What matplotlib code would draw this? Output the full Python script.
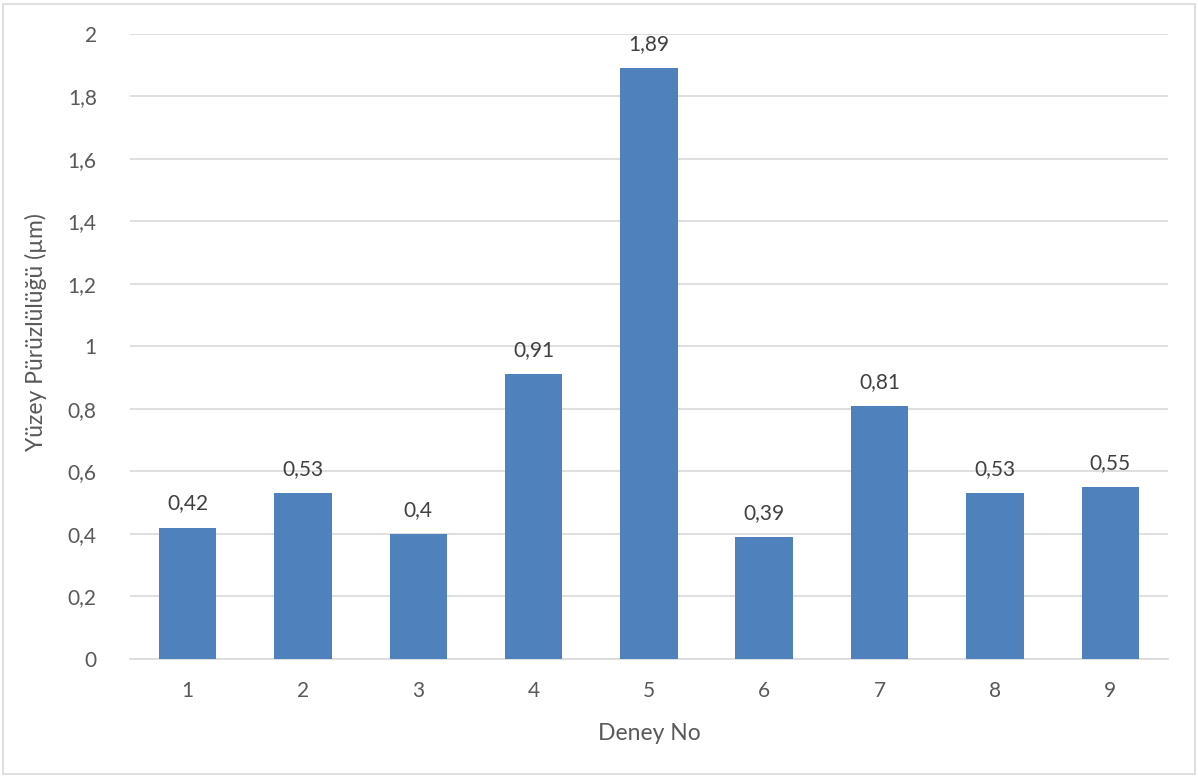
import matplotlib
matplotlib.use('Agg')
import matplotlib.pyplot as plt
from matplotlib.patches import Rectangle

deney = ['1', '2', '3', '4', '5', '6', '7', '8', '9']
puruzluluk = [0.42, 0.53, 0.40, 0.91, 1.89, 0.39, 0.81, 0.53, 0.55]
yticks = [0, 0.2, 0.4, 0.6, 0.8, 1.0, 1.2, 1.4, 1.6, 1.8, 2.0]

plt.rcParams['font.family'] = ['Lato', 'DejaVu Sans']
grey = '#595959'

fig = plt.figure(figsize=(11.98, 7.76), dpi=100)
fig.patches.append(Rectangle((3 / 1198, 2 / 776), 1192 / 1198, 770 / 776,
                             transform=fig.transFigure, fill=False,
                             edgecolor='#d9d9d9', linewidth=1.2))
ax = fig.add_axes([130 / 1198, 117 / 776, 1038 / 1198, 625.5 / 776])

x = range(len(deney))
ax.bar(x, puruzluluk, width=0.5, color='#4F81BD', zorder=3)
for i, v in enumerate(puruzluluk):
    ax.text(i, v + 0.045, f'{v:g}'.replace('.', ','), ha='center', va='bottom',
            fontsize=15, color='#404040')

ax.set_xlim(-0.5, len(deney) - 0.5)
ax.set_ylim(0, 2)
ax.set_yticks(yticks)
ax.set_yticklabels([f'{t:g}'.replace('.', ',') for t in yticks])
ax.set_xticks(list(x))
ax.set_xticklabels(deney)
ax.grid(axis='y', color='#d9d9d9', linewidth=1.2, zorder=0)
for s in ['top', 'right', 'left']:
    ax.spines[s].set_visible(False)
ax.spines['bottom'].set_color('#d9d9d9')
ax.spines['bottom'].set_linewidth(1.2)
ax.tick_params(length=0, labelsize=15, labelcolor=grey)
ax.tick_params(axis='y', pad=24)
ax.tick_params(axis='x', pad=16)
ax.set_xlabel('Deney No', fontsize=16.5, color=grey, labelpad=16)
ax.set_ylabel('Yüzey Pürüzlülüğü (µm)', fontsize=16.5, color=grey)
ax.yaxis.set_label_coords(-0.08, 0.523)

fig.savefig('out.png', dpi=100)
